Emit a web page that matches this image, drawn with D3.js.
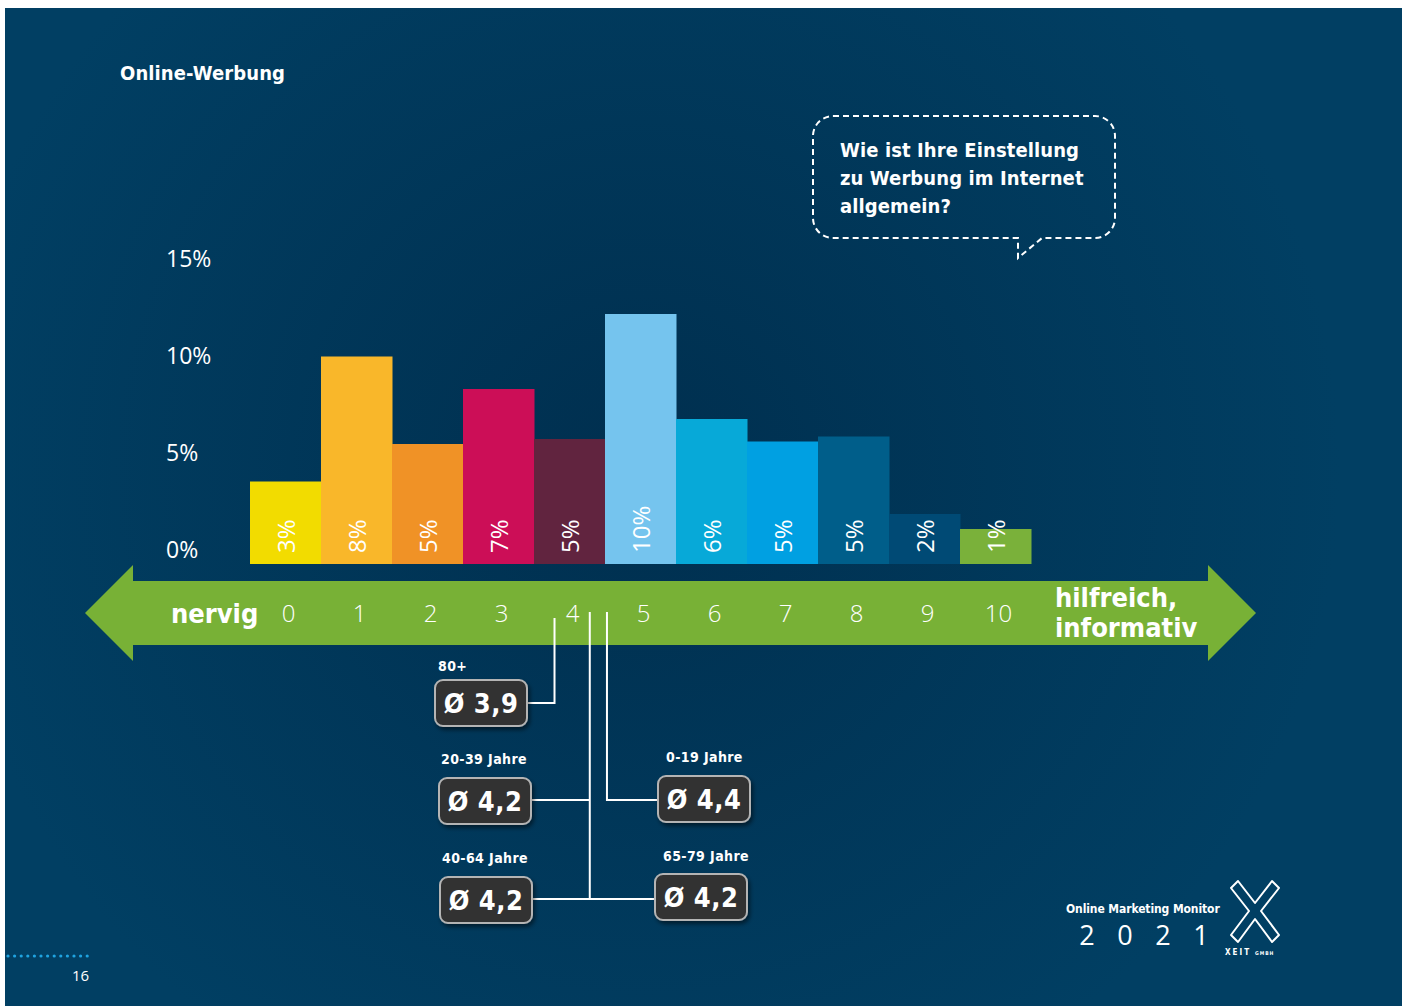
<!doctype html>
<html>
  <head>
    <meta charset="utf-8">
    <script src="https://cdnjs.cloudflare.com/ajax/libs/d3/7.8.5/d3.min.js"></script>
  <style>
    body { margin: 0; background: #fff; }
    svg { display: block; }
    .bold { font-family: "DejaVu Sans Condensed", "DejaVu Sans", sans-serif; font-weight: bold; fill: #fff; }
    .light { font-family: "Open Sans", "DejaVu Sans", sans-serif; font-weight: 300; fill: #fff; }
  </style>
  </head>
  <body>
    <svg width="1407" height="1006"></svg>
    <script>
      // scale values 0..10
      var categories = ["0", "1", "2", "3", "4", "5", "6", "7", "8", "9", "10"];
      // bar heights as drawn, in percent
      var shares = [3.3, 8.3, 4.8, 7.0, 5.0, 10.0, 5.8, 4.9, 5.1, 2.0, 1.4];
      var shareLabels = ["3%", "8%", "5%", "7%", "5%", "10%", "6%", "5%", "5%", "2%", "1%"];
      var barColors = ["#f2dc00", "#f9b72a", "#f09226", "#cc0e57", "#61243f", "#75c4ee",
                       "#07a9d8", "#00a0e2", "#005e8a", "#004a75", "#7ab13a"];
      var yTicks = [0, 5, 10, 15];

      // average per age group
      var groups = ["80+", "20-39 Jahre", "0-19 Jahre", "40-64 Jahre", "65-79 Jahre"];
      var averages = [3.9, 4.2, 4.4, 4.2, 4.2];
      var averageLabels = ["Ø 3,9", "Ø 4,2", "Ø 4,4", "Ø 4,2", "Ø 4,2"];

      var svg = d3.select("svg");

      var defs = svg.append("defs");
      var grad = defs.append("radialGradient").attr("id", "bg")
        .attr("gradientUnits", "userSpaceOnUse")
        .attr("cx", 640).attr("cy", 470).attr("r", 700);
      grad.append("stop").attr("offset", 0).attr("stop-color", "#002f4f");
      grad.append("stop").attr("offset", 1).attr("stop-color", "#013f63");
      var shadow = defs.append("filter").attr("id", "shadow")
        .attr("x", "-20%").attr("y", "-20%").attr("width", "150%").attr("height", "160%");
      shadow.append("feDropShadow").attr("dx", 2).attr("dy", 3).attr("stdDeviation", 2)
        .attr("flood-color", "#000").attr("flood-opacity", 0.5);

      svg.append("rect").attr("x", 5).attr("y", 8).attr("width", 1397).attr("height", 998)
        .attr("fill", "url(#bg)");

      // title
      svg.append("text").attr("class", "bold").attr("x", 120).attr("y", 80)
        .style("font-size", "20px").style("letter-spacing", "0.1px").text("Online-Werbung");

      // speech bubble
      var bubble = d3.path();
      var bx0 = 813, bx1 = 1115, by0 = 116, by1 = 238, r = 20;
      bubble.moveTo(bx0 + r, by0);
      bubble.lineTo(bx1 - r, by0);
      bubble.arcTo(bx1, by0, bx1, by0 + r, r);
      bubble.lineTo(bx1, by1 - r);
      bubble.arcTo(bx1, by1, bx1 - r, by1, r);
      bubble.lineTo(1042, by1);
      bubble.lineTo(1018, 258);
      bubble.lineTo(1018, by1);
      bubble.lineTo(bx0 + r, by1);
      bubble.arcTo(bx0, by1, bx0, by1 - r, r);
      bubble.lineTo(bx0, by0 + r);
      bubble.arcTo(bx0, by0, bx0 + r, by0, r);
      bubble.closePath();
      svg.append("path").attr("d", bubble.toString())
        .attr("fill", "none").attr("stroke", "#fff").attr("stroke-width", 2)
        .attr("stroke-dasharray", "6,4");
      var question = ["Wie ist Ihre Einstellung", "zu Werbung im Internet", "allgemein?"];
      svg.append("g").selectAll("text").data(question).join("text")
        .attr("class", "bold").attr("x", 840).attr("y", (d, i) => 157 + i * 28)
        .style("font-size", "20px").style("letter-spacing", "0.1px").text(d => d);

      // bars
      var x = d3.scaleBand().domain(categories).range([250, 1031]);
      var y = d3.scaleLinear().domain([0, 10]).range([564, 314]);
      var yAxisScale = d3.scaleLinear().domain([0, 15]).range([557, 266]);

      svg.append("g").selectAll("rect").data(shares).join("rect")
        .attr("x", (d, i) => x(categories[i]))
        .attr("y", d => y(d))
        .attr("width", x.bandwidth() + 0.5)
        .attr("height", d => y(0) - y(d))
        .attr("fill", (d, i) => barColors[i]);

      svg.append("g").selectAll("text").data(shareLabels).join("text")
        .attr("class", "light")
        .attr("transform", (d, i) => `translate(${x(categories[i]) + x.bandwidth() / 2},553) rotate(-90)`)
        .attr("dominant-baseline", "central")
        .style("font-size", "24px").style("font-weight", 400).text(d => d);

      var yAxis = d3.axisLeft(yAxisScale).tickValues(yTicks).tickSize(0).tickFormat(d => d + "%");
      var yAxisG = svg.append("g").attr("transform", "translate(166,0)").call(yAxis);
      yAxisG.select(".domain").remove();
      yAxisG.selectAll("text").attr("class", "light").attr("text-anchor", "start")
        .attr("x", 0).attr("dy", null).style("font-size", "23px").style("font-weight", 400)
        .attr("fill", "#fff");

      // green arrow scale
      var arrow = [[85, 613], [133, 565], [133, 581], [1208, 581], [1208, 565], [1256, 613],
                   [1208, 661], [1208, 645], [133, 645], [133, 661]];
      svg.append("path").attr("d", d3.line()(arrow) + "Z").attr("fill", "#78b136");

      var xAxis = d3.axisBottom(x).tickSize(0);
      var xAxisG = svg.append("g").attr("transform", "translate(3,0)").call(xAxis);
      xAxisG.select(".domain").remove();
      xAxisG.selectAll("text").attr("class", "light").attr("y", 614).attr("dy", "0.35em")
        .style("font-size", "24px").attr("fill", "#f2f6ee");

      svg.append("text").attr("class", "bold").attr("x", 171).attr("y", 623)
        .style("font-size", "27px").text("nervig");
      svg.append("text").attr("class", "bold").attr("x", 1055).attr("y", 607)
        .style("font-size", "27px").text("hilfreich,");
      svg.append("text").attr("class", "bold").attr("x", 1055).attr("y", 637)
        .style("font-size", "27px").text("informativ");

      // averages by age group
      var pos = d3.scaleLinear().domain([0, 10]).range([289, 998]);
      var boxes = [
        { x: 435, y: 680, lx: 3, ly: -9 },
        { x: 439, y: 778, lx: 2, ly: -14 },
        { x: 658, y: 776, lx: 8, ly: -14 },
        { x: 440, y: 877, lx: 2, ly: -14 },
        { x: 655, y: 874, lx: 8, ly: -13 }
      ];
      var bw = 92, bh = 46;

      var lines = svg.append("g").attr("fill", "none").attr("stroke", "#fff").attr("stroke-width", 2);
      // 80+
      var x39 = pos(averages[0]) - 11;
      lines.append("path").attr("d", d3.line()([[x39, 618], [x39, 703], [boxes[0].x + bw, 703]]));
      // 20-39, 40-64, 65-79 share a line
      var x42 = pos(averages[1]) + 3;
      lines.append("path").attr("d", d3.line()([[x42, 612], [x42, 899]]));
      lines.append("path").attr("d", d3.line()([[boxes[1].x + bw, 800], [x42, 800]]));
      lines.append("path").attr("d", d3.line()([[boxes[3].x + bw, 899], [boxes[4].x, 899]]));
      // 0-19
      var x44 = pos(averages[2]) + 6;
      lines.append("path").attr("d", d3.line()([[x44, 612], [x44, 800], [boxes[2].x, 800]]));

      var boxG = svg.append("g").selectAll("g").data(boxes).join("g")
        .attr("transform", d => `translate(${d.x},${d.y})`);
      boxG.append("rect").attr("width", bw).attr("height", bh).attr("rx", 8)
        .attr("fill", "#323232").attr("stroke", "#b4b4b4").attr("stroke-width", 2)
        .attr("filter", "url(#shadow)");
      boxG.append("text").attr("class", "bold").attr("x", bw / 2).attr("y", bh / 2 + 10)
        .attr("text-anchor", "middle").style("font-size", "27px").style("letter-spacing", "0.5px")
        .text((d, i) => averageLabels[i]);
      boxG.append("text").attr("class", "bold").attr("x", d => d.lx)
        .attr("y", d => d.ly).style("font-size", "14px").style("letter-spacing", "0.4px")
        .text((d, i) => groups[i]);

      // logo
      svg.append("text").attr("class", "bold").attr("x", 1066).attr("y", 913)
        .style("font-size", "12px").style("letter-spacing", "-0.1px").text("Online Marketing Monitor");
      svg.append("g").selectAll("text").data(["2", "0", "2", "1"]).join("text")
        .attr("class", "light").attr("x", (d, i) => 1087 + i * 38).attr("y", 945)
        .attr("text-anchor", "middle").style("font-size", "27px").style("font-weight", 400)
        .text(d => d);
      var xMark = [[1238, 881], [1255, 903], [1272, 881], [1279, 888], [1261, 911], [1279, 935],
                   [1272, 942], [1255, 919], [1238, 942], [1231, 935], [1249, 911], [1231, 888]];
      svg.append("path").attr("d", d3.line()(xMark) + "Z").attr("fill", "none")
        .attr("stroke", "#fff").attr("stroke-width", 2).attr("stroke-linejoin", "round");
      svg.append("text").attr("class", "bold").attr("x", 1225).attr("y", 955)
        .style("font-size", "8px").style("letter-spacing", "2px").text("XEIT");
      svg.append("text").attr("class", "bold").attr("x", 1255).attr("y", 955)
        .style("font-size", "5px").style("letter-spacing", "1px").text("GMBH");

      // page footer
      svg.append("g").selectAll("circle").data(d3.range(13)).join("circle")
        .attr("cx", d => 8 + d * 6.6).attr("cy", 956).attr("r", 1.6).attr("fill", "#1fa3e0");
      svg.append("text").attr("class", "light").attr("x", 72).attr("y", 981)
        .style("font-size", "15px").style("font-weight", 400).text("16");
    </script>
  </body>
</html>
